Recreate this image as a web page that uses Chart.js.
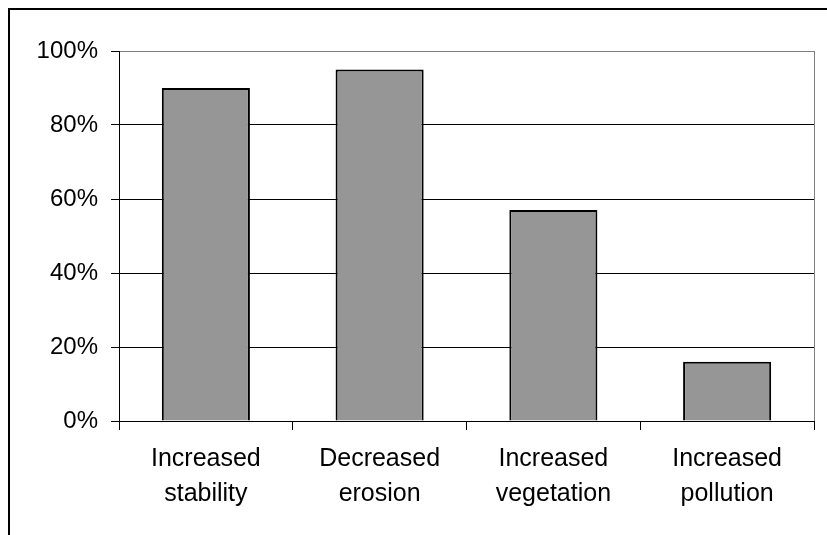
<!DOCTYPE html>
<html>
<head>
<meta charset="utf-8">
<script src="https://cdn.jsdelivr.net/npm/chart.js@4"></script>
<style>
  html, body { margin: 0; padding: 0; background: #fff; overflow: hidden; }
  #frame { position: absolute; left: 8px; top: 8px; width: 900px; height: 600px; border: 2px solid #000; }
  #wrap { position: absolute; left: 0; top: 0; width: 827px; height: 535px; }
</style>
</head>
<body>
<div id="frame"></div>
<div id="wrap"><canvas id="chart"></canvas></div>
<script>
const categories = [["Increased", "stability"], ["Decreased", "erosion"], ["Increased", "vegetation"], ["Increased", "pollution"]];
const shares = [90, 95, 57, 16];
const yTicks = [0, 20, 40, 60, 80, 100];

// gray border on the right side of the plot area
const plotBorder = {
  id: "plotBorder",
  afterDraw(chart) {
    const a = chart.chartArea, ctx = chart.ctx;
    ctx.save();
    ctx.strokeStyle = "#808080";
    ctx.lineWidth = 1;
    ctx.beginPath();
    ctx.moveTo(Math.round(a.right) + 0.5, a.top);
    ctx.lineTo(Math.round(a.right) + 0.5, a.bottom);
    ctx.stroke();
    ctx.restore();
  }
};

Chart.defaults.font.family = "'Liberation Sans', Arial, sans-serif";
Chart.defaults.color = "#000";

new Chart(document.getElementById("chart").getContext("2d"), {
  type: "bar",
  data: {
    labels: categories,
    datasets: [{
      data: shares,
      backgroundColor: "#969696",
      borderColor: "#000",
      borderWidth: 2,
      categoryPercentage: 1,
      barPercentage: 0.507
    }]
  },
  options: {
    responsive: true,
    maintainAspectRatio: false,
    animation: false,
    layout: { padding: { left: 0, top: 51, right: 13, bottom: 0 } },
    plugins: { legend: { display: false }, tooltip: { enabled: false } },
    scales: {
      x: {
        afterFit(s) { s.height = 114; },
        grid: { offset: true, drawOnChartArea: false, drawTicks: true, tickLength: 9, color: "#000" },
        border: { color: "#000", width: 1 },
        ticks: { font: { size: 25, lineHeight: 1.38 }, padding: 12, maxRotation: 0 }
      },
      y: {
        min: 0,
        max: 100,
        afterFit(s) { s.width = 119; },
        afterBuildTicks(s) { s.ticks = yTicks.map(v => ({ value: v })); },
        grid: {
          color: ctx => (ctx.tick && ctx.tick.value === 100 ? "#808080" : "#000"),
          tickColor: "#000",
          tickLength: 8
        },
        border: { color: "#000", width: 1 },
        ticks: { font: { size: 24 }, padding: 13, callback: v => v + "%" }
      }
    }
  },
  plugins: [plotBorder]
});
</script>
</body>
</html>
